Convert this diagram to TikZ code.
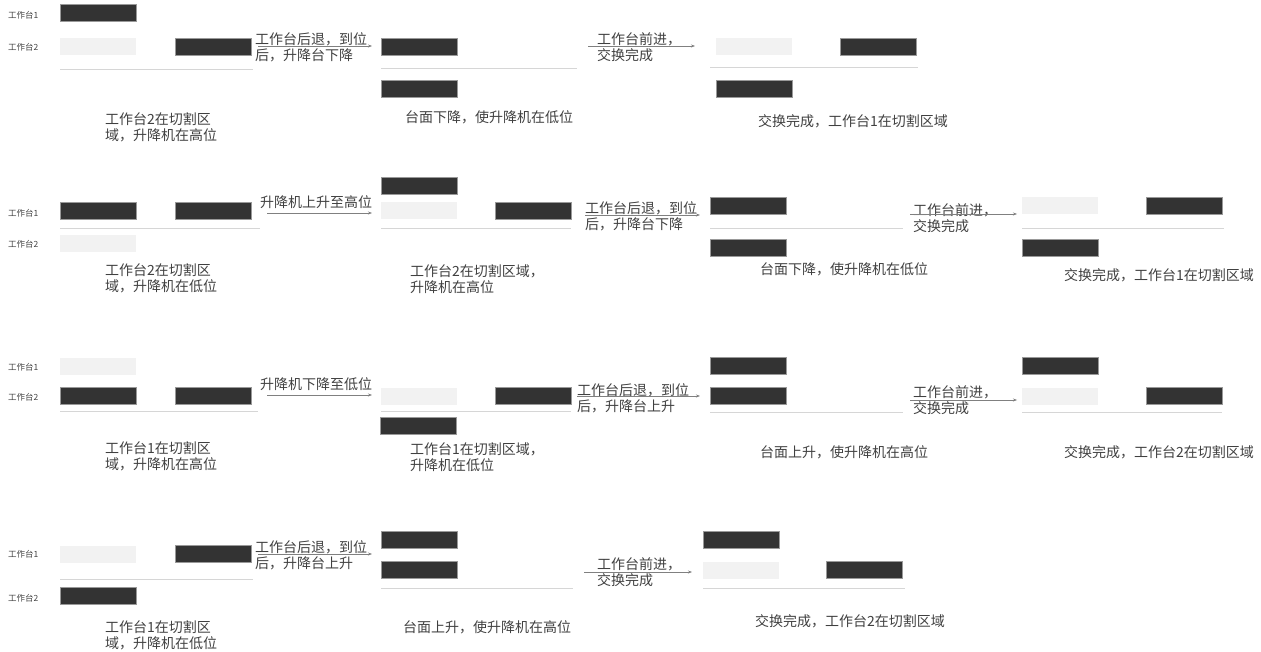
\documentclass[tikz,border=0pt]{standalone}
\usepackage{fontspec}
\setmainfont{Noto Sans CJK SC}
\usetikzlibrary{arrows.meta,positioning}
\definecolor{bar}{HTML}{333333}\definecolor{pale}{HTML}{F2F2F2}\definecolor{rule}{HTML}{D6D6D6}\definecolor{ink}{HTML}{404040}
\tikzset{bk/.style={fill=bar,draw=gray!80,line width=0.4pt,minimum width=76pt,minimum height=17pt,inner sep=0pt,anchor=west},lt/.style={bk,fill=pale,draw=none},
tag/.style={font=\fontsize{8.5}{9}\selectfont,text=ink,inner sep=0pt,anchor=west},note/.style={font=\fontsize{14}{16.5}\selectfont,text=ink,align=left,inner sep=0pt,anchor=north west},
arr/.style={-{Stealth[length=4pt,width=3pt]},draw=gray,line width=0.6pt},gnd/.style={draw=rule,line width=0.9pt}}
\begin{document}
\begin{tikzpicture}[x=1pt,y=-1pt]
\useasboundingbox(0,0)rectangle(1261,652);
% row 1
\node[tag](ta1)at(8,15){工作台1};\node[tag](ta2)at(8,47){工作台2};
\node[bk](a1)at(60,13){};\node[lt](a2)at(60,47){};\node[bk](a3)at(175,47){};\draw[gnd](60,69)--(253,69);
\node[note](ca1)at(105,112){工作台2在切割区\\域，升降机在高位};
\node[note](ma1)at(255,32){工作台后退，到位\\后，升降台下降};\coordinate(pa1)at(258,46);\coordinate(qa1)at(372,46);
\node[bk](a4)at(381,47){};\node[bk](a5)at(381,89){};\draw[gnd](381,68)--(577,68);
\node[note](ca2)at(405,110){台面下降，使升降机在低位};
\node[note](ma2)at(597,32){工作台前进，\\交换完成};\coordinate(pa2)at(588,46);\coordinate(qa2)at(695,46);
\node[lt](a6)at(716,47){};\node[bk](a7)at(840,47){};\node[bk](a8)at(716,89){};\draw[gnd](710,67)--(918,67);
\node[note](ca3)at(758,114){交换完成，工作台1在切割区域};
% row 2
\node[tag](tb1)at(8,213){工作台1};\node[tag](tb2)at(8,244){工作台2};
\node[bk](b1)at(60,211){};\node[bk](b2)at(175,211){};\node[lt](b3)at(60,244){};\draw[gnd](60,228)--(260,228);
\node[note](cb1)at(105,263){工作台2在切割区\\域，升降机在低位};
\node[note](mb1)at(260,195){升降机上升至高位};\coordinate(pb1)at(267,213);\coordinate(qb1)at(372,213);
\node[bk](b4)at(381,186){};\node[lt](b5)at(381,211){};\node[bk](b6)at(495,211){};\draw[gnd](381,228)--(571,228);
\node[note](cb2)at(410,264){工作台2在切割区域，\\升降机在高位};
\node[note](mb2)at(585,201){工作台后退，到位\\后，升降台下降};\coordinate(pb2)at(585,215);\coordinate(qb2)at(700,215);
\node[bk](b7)at(710,206){};\node[bk](b8)at(710,248){};\draw[gnd](710,228)--(903,228);
\node[note](cb3)at(760,262){台面下降，使升降机在低位};
\node[note](mb3)at(913,203){工作台前进，\\交换完成};\coordinate(pb3)at(910,214);\coordinate(qb3)at(1017,214);
\node[lt](b9)at(1022,206){};\node[bk](b10)at(1146,206){};\node[bk](b11)at(1022,248){};\draw[gnd](1022,228)--(1224,228);
\node[note](cb4)at(1064,268){交换完成，工作台1在切割区域};
% row 3
\node[tag](tc1)at(8,367){工作台1};\node[tag](tc2)at(8,397){工作台2};
\node[lt](c1)at(60,366){};\node[bk](c2)at(60,396){};\node[bk](c3)at(175,396){};\draw[gnd](60,411)--(258,411);
\node[note](cc1)at(105,441){工作台1在切割区\\域，升降机在高位};
\node[note](mc1)at(260,377){升降机下降至低位};\coordinate(pc1)at(267,395);\coordinate(qc1)at(372,395);
\node[lt](c4)at(381,396){};\node[bk](c5)at(495,396){};\node[bk](c6)at(380,426){};\draw[gnd](381,411)--(571,411);
\node[note](cc2)at(410,442){工作台1在切割区域，\\升降机在低位};
\node[note](mc2)at(577,383){工作台后退，到位\\后，升降台上升};\coordinate(pc2)at(577,396);\coordinate(qc2)at(700,396);
\node[bk](c7)at(710,366){};\node[bk](c8)at(710,396){};\draw[gnd](710,412)--(903,412);
\node[note](cc3)at(760,445){台面上升，使升降机在高位};
\node[note](mc3)at(913,385){工作台前进，\\交换完成};\coordinate(pc3)at(910,400);\coordinate(qc3)at(1017,400);
\node[bk](c9)at(1022,366){};\node[lt](c10)at(1022,396){};\node[bk](c11)at(1146,396){};\draw[gnd](1022,412)--(1222,412);
\node[note](cc4)at(1064,445){交换完成，工作台2在切割区域};
% row 4
\node[tag](td1)at(8,554){工作台1};\node[tag](td2)at(8,598){工作台2};
\node[lt](d1)at(60,554){};\node[bk](d2)at(175,554){};\node[bk](d3)at(60,596){};\draw[gnd](60,579)--(253,579);
\node[note](cd1)at(105,620){工作台1在切割区\\域，升降机在低位};
\node[note](md1)at(255,540){工作台后退，到位\\后，升降台上升};\coordinate(pd1)at(258,554);\coordinate(qd1)at(372,554);
\node[bk](d4)at(381,540){};\node[bk](d5)at(381,570){};\draw[gnd](381,588)--(573,588);
\node[note](cd2)at(403,620){台面上升，使升降机在高位};
\node[note](md2)at(597,557){工作台前进，\\交换完成};\coordinate(pd2)at(584,572);\coordinate(qd2)at(692,572);
\node[bk](d6)at(703,540){};\node[lt](d7)at(703,570){};\node[bk](d8)at(826,570){};\draw[gnd](703,588)--(905,588);
\node[note](cd3)at(755,614){交换完成，工作台2在切割区域};
\foreach\a/\b in{pa1/qa1,pa2/qa2,pb1/qb1,pb2/qb2,pb3/qb3,pc1/qc1,pc2/qc2,pc3/qc3,pd1/qd1,pd2/qd2}\draw[arr](\a)--(\b);
\end{tikzpicture}
\end{document}
